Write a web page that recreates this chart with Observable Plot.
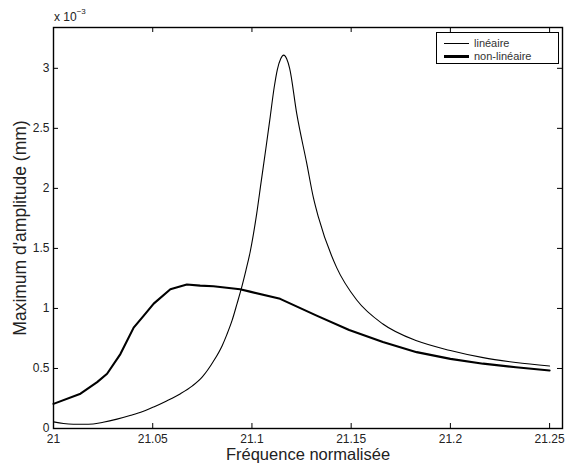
<!DOCTYPE html>
<html>
<head>
<meta charset="utf-8">
<script src="https://cdn.jsdelivr.net/npm/d3@7"></script>
<script src="https://cdn.jsdelivr.net/npm/@observablehq/plot@0.6"></script>
<style>
  body { margin: 0; background: #fff; }
  #wrap { position: relative; width: 565px; height: 470px; font-family: "Liberation Sans", Arial, sans-serif; color: #111; }
  #legend { position: absolute; left: 436px; top: 32px; width: 123px; height: 32px; border: 1px solid #000; background: #fff; font-size: 11px; box-sizing: border-box; }
  .row { position: absolute; left: 0; height: 13px; line-height: 13px; }
  .sw { position: absolute; left: 7px; width: 25px; background: #000; }
  .lab { position: absolute; left: 37px; white-space: nowrap; color: #333; }
  #expo { position: absolute; left: 54px; top: 9px; font-size: 12px; white-space: nowrap; color: #222; }
  #expo sup { font-size: 8px; position: relative; top: -2px; }
</style>
</head>
<body>
<div id="wrap"></div>
<script>
// Linear response
const freqLin = [21.000, 21.005, 21.010, 21.015, 21.020, 21.025, 21.032, 21.039, 21.045, 21.0505, 21.057, 21.064, 21.070, 21.075,
  21.0806, 21.085, 21.0873, 21.090, 21.0925, 21.0944, 21.097, 21.0991, 21.1024, 21.1046, 21.107, 21.109, 21.1112, 21.1128, 21.1145, 21.116,
  21.1175, 21.119, 21.1226, 21.1276, 21.131, 21.1335, 21.1427, 21.1528, 21.166, 21.183, 21.2, 21.2165, 21.233, 21.25];
const ampLin = [0.055, 0.042, 0.036, 0.035, 0.038, 0.052, 0.078, 0.11, 0.142, 0.18, 0.23, 0.29, 0.355, 0.43,
  0.56, 0.69, 0.78, 0.90, 1.04, 1.15, 1.32, 1.47, 1.79, 2.05, 2.33, 2.57, 2.84, 2.99, 3.08, 3.11,
  3.08, 3.0, 2.62, 2.21, 1.92, 1.76, 1.34, 1.07, 0.87, 0.73, 0.65, 0.59, 0.55, 0.52];
// Non-linear response
const freqNon = [21.000, 21.0136, 21.022, 21.027, 21.0337, 21.0404, 21.0455, 21.0505, 21.0589, 21.0672, 21.0739, 21.0806,
  21.094, 21.099, 21.1142, 21.1326, 21.149, 21.166, 21.183, 21.2, 21.2165, 21.233, 21.25];
const ampNon = [0.205, 0.29, 0.386, 0.456, 0.62, 0.84, 0.94, 1.04, 1.16, 1.2, 1.19, 1.185,
  1.16, 1.14, 1.08, 0.94, 0.82, 0.72, 0.636, 0.58, 0.54, 0.51, 0.483];
const xTicks = [21, 21.05, 21.1, 21.15, 21.2, 21.25];
const yTicks = [0, 0.5, 1, 1.5, 2, 2.5, 3];
const seriesNames = ["linéaire", "non-linéaire"];
const xLabel = "Fréquence normalisée";
const yLabel = "Maximum d'amplitude (mm)";

const linData = freqLin.map((f, i) => ({f, a: ampLin[i]}));
const nonData = freqNon.map((f, i) => ({f, a: ampNon[i]}));

const FW = 565 - 53 - 3, FH = 470 - 27 - 42;
const fmtX = d => String(Math.round(d * 100) / 100);

const chart = Plot.plot({
  width: 565, height: 470,
  marginLeft: 53, marginRight: 3, marginTop: 27, marginBottom: 42,
  style: {fontFamily: "Liberation Sans, Arial, sans-serif", fontSize: "12px", color: "#222", background: "#fff"},
  x: {domain: [21, 21.2565]},
  y: {domain: [0, 3.34]},
  marks: [
    Plot.line(nonData, {x: "f", y: "a", stroke: "#000", strokeWidth: 2.1}),
    Plot.line(linData, {x: "f", y: "a", stroke: "#000", strokeWidth: 1.1, curve: "monotone-x"}),
    Plot.axisX(xTicks, {tickSize: 0, tickPadding: 6, tickFormat: fmtX, label: null}),
    Plot.axisY(yTicks, {tickSize: 0, tickPadding: 4, tickFormat: d => String(d), label: null}),
    Plot.tickX(xTicks, {x: d => d, insetTop: FH - 5, stroke: "#000", strokeWidth: 1}),
    Plot.tickX(xTicks, {x: d => d, insetBottom: FH - 5, stroke: "#000", strokeWidth: 1}),
    Plot.tickY(yTicks, {y: d => d, insetRight: FW - 5, stroke: "#000", strokeWidth: 1}),
    Plot.tickY(yTicks, {y: d => d, insetLeft: FW - 5, stroke: "#000", strokeWidth: 1}),
    Plot.frame({stroke: "#000", strokeWidth: 1.4}),
    Plot.text([xLabel], {frameAnchor: "bottom", dy: 31, fontSize: 16.5, fill: "#222", text: d => d}),
    Plot.text([yLabel], {frameAnchor: "left", dx: -33, rotate: -90, textAnchor: "middle", fontSize: 17.5, fill: "#222", text: d => d})
  ]
});
const wrap = document.getElementById("wrap");
wrap.appendChild(chart);

const expo = document.createElement("div");
expo.id = "expo";
expo.innerHTML = "x 10<sup>\u22123</sup>";
wrap.appendChild(expo);

const legend = document.createElement("div");
legend.id = "legend";
const widths = [1.1, 2.1];
seriesNames.forEach((name, i) => {
  const row = document.createElement("div");
  row.className = "row";
  row.style.top = (4 + i * 13) + "px";
  row.style.width = "100%";
  const sw = document.createElement("div");
  sw.className = "sw";
  sw.style.height = widths[i] + "px";
  sw.style.top = (6.5 - widths[i] / 2) + "px";
  const lab = document.createElement("div");
  lab.className = "lab";
  lab.textContent = name;
  row.appendChild(sw);
  row.appendChild(lab);
  legend.appendChild(row);
});
wrap.appendChild(legend);
</script>
</body>
</html>
